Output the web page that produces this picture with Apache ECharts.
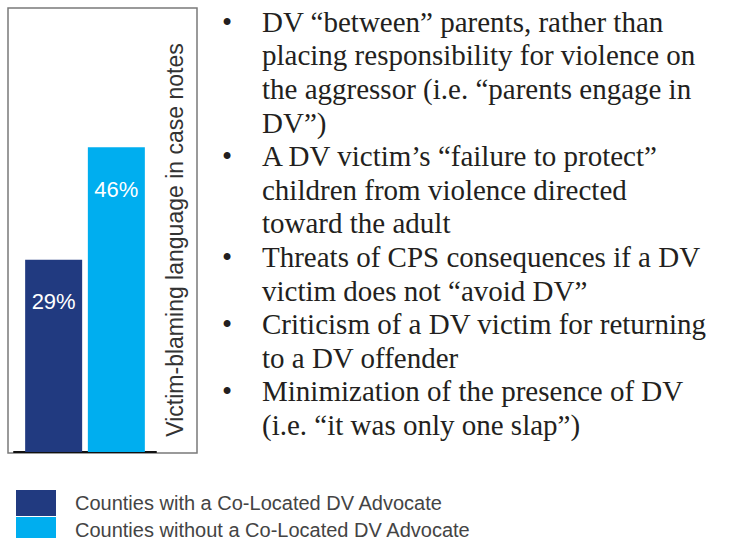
<!DOCTYPE html>
<html>
<head>
<meta charset="utf-8">
<script src="https://cdn.jsdelivr.net/npm/echarts@6/dist/echarts.min.js"></script>
<style>
  html, body { margin: 0; padding: 0; background: #fff; }
  #chart { width: 733px; height: 538px; }
</style>
</head>
<body>
<div id="chart"></div>
<script>
// data
var categories = ['Victim-blaming language in case notes'];
var seriesNames = ['Counties with a Co-Located DV Advocate', 'Counties without a Co-Located DV Advocate'];
var withAdvocate = [29];
var withoutAdvocate = [46];
var axisTitle = 'Victim-blaming language in case notes';
var bullets = [
    ['DV \u201cbetween\u201d parents, rather than', 'placing responsibility for violence on', 'the aggressor (i.e. \u201cparents engage in', 'DV\u201d)'],
    ['A DV victim\u2019s \u201cfailure to protect\u201d', 'children from violence directed', 'toward the adult'],
    ['Threats of CPS consequences if a DV', 'victim does not \u201cavoid DV\u201d'],
    ['Criticism of a DV victim for returning', 'to a DV offender'],
    ['Minimization of the presence of DV', '(i.e. \u201cit was only one slap\u201d)']
];

var colors = ['#213a80', '#00aeef'];
var sans = '"Liberation Sans", Arial, sans-serif';
var serif = '"Liberation Serif", "Times New Roman", serif';

// bullet list text on the right
var lineH = 33.6;
var graphics = [];
var lineNo = 0;
bullets.forEach(function (b) {
    var top = 5 + lineNo * lineH;
    graphics.push({
        type: 'text', left: 222, top: top,
        style: { text: '\u2022', font: '29px ' + serif, fill: '#231f20', lineHeight: lineH }
    });
    graphics.push({
        type: 'text', left: 262, top: top,
        style: { text: b.join('\n'), font: '29px ' + serif, fill: '#231f20', lineHeight: lineH }
    });
    lineNo += b.length;
});

// frame around the bar panel
graphics.push({
    type: 'rect', shape: { x: 8, y: 8, width: 189, height: 445 },
    style: { fill: 'none', stroke: '#7a7a7a', lineWidth: 1.5 }, z: -1
});
// rotated value axis title
graphics.push({
    type: 'text', x: 175, y: 240, rotation: Math.PI / 2,
    style: { text: axisTitle, font: '23px ' + sans, fill: '#333', align: 'center', verticalAlign: 'middle' }
});

var chart = echarts.init(document.getElementById('chart'), null, { renderer: 'svg' });
chart.setOption({
    animation: false,
    color: colors,
    grid: { left: 14, top: 8, width: 142, height: 444 },
    legend: {
        orient: 'vertical', left: 16, top: 490, height: 70, padding: 0,
        itemWidth: 40, itemHeight: 26, itemGap: 1,
        icon: 'rect',
        data: seriesNames,
        textStyle: { fontFamily: sans, fontSize: 20, lineHeight: 18, color: '#444', padding: [0, 0, 4, 14] }
    },
    xAxis: {
        type: 'category', data: categories,
        axisLine: { lineStyle: { color: '#111', width: 2 } },
        axisTick: { show: false }, axisLabel: { show: false }
    },
    yAxis: {
        type: 'value', min: 0, max: 67, show: false, splitLine: { show: false }
    },
    series: [
        {
            name: seriesNames[0], type: 'bar', data: withAdvocate,
            barWidth: 57, barGap: '10%',
            label: { show: true, position: 'insideTop', distance: 31, formatter: '{c}%', color: '#fff', fontSize: 22, fontFamily: sans }
        },
        {
            name: seriesNames[1], type: 'bar', data: withoutAdvocate,
            barWidth: 57, barGap: '10%',
            label: { show: true, position: 'insideTop', distance: 31, formatter: '{c}%', color: '#fff', fontSize: 22, fontFamily: sans }
        }
    ],
    graphic: graphics
});
</script>
</body>
</html>
